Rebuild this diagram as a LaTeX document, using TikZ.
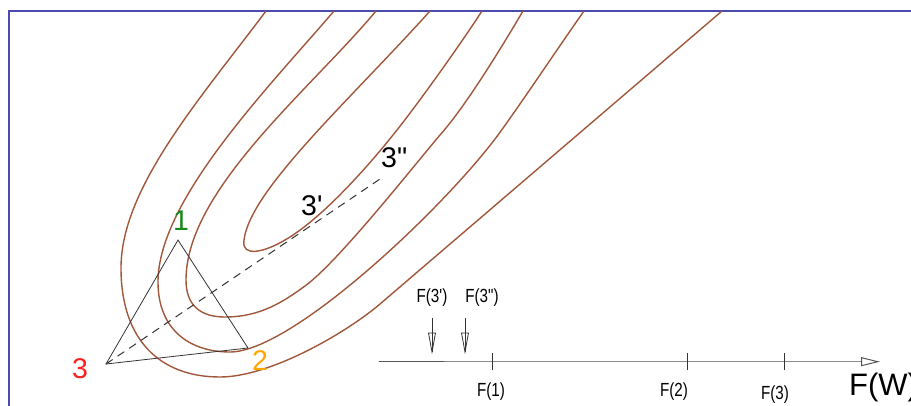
\documentclass[tikz,border=0pt]{standalone}
\usepackage{fontspec}
\usepackage{graphicx}
\newfontfamily\lab{Liberation Sans}
\usetikzlibrary{arrows.meta,calc}
\definecolor{contourc}{HTML}{A0573A}
\definecolor{framec}{HTML}{4B4BAF}
\definecolor{tric}{HTML}{333333}
\definecolor{greenc}{HTML}{17881B}
\definecolor{orangec}{HTML}{FFA500}
\definecolor{redc}{HTML}{FF2020}
\definecolor{axdark}{HTML}{555555}
\definecolor{axlight}{HTML}{8C8C8C}
\tikzset{
  contour/.style={draw=contourc, line width=1.4pt},
  frameline/.style={draw=framec, line width=1.6pt},
  tri/.style={draw=tric, line width=0.8pt},
  dashln/.style={draw=tric, line width=1pt, dash pattern=on 8pt off 6pt},
  biglab/.style={font=\lab\fontsize{28.5}{30}\selectfont, inner sep=0pt, anchor=base},
  smalllab/.style={font=\lab\fontsize{19}{20}\selectfont, inner sep=0pt, anchor=base},
  tickln/.style={draw=tric, line width=0.8pt},
  pointer/.style={draw=tric, line width=0.8pt}
}
\begin{document}
\begin{tikzpicture}[x=1pt,y=-1pt]
\useasboundingbox (0,0) rectangle (911,405);
% frame
\draw[frameline] (9,11) rectangle (916,412);
% contours (outermost to innermost)
\draw[contour] (266,11) .. controls (200,99) and (121,188) .. (121,268)
  .. controls (121,340) and (160,377) .. (220,377)
  .. controls (270,377) and (346,333) .. (380,304)
  -- (722,11);
\draw[contour] (334,11) .. controls (269,87) and (158,200) .. (158,282)
  .. controls (158,330) and (190,352) .. (230,352)
  .. controls (292,352) and (444,208) .. (498,135)
  .. controls (520,105) and (560,45) .. (584,11);
\draw[contour] (376,11) .. controls (310,90) and (186,190) .. (186,280)
  .. controls (186,305) and (200,317) .. (225,317)
  .. controls (260,317) and (283,302) .. (305,286)
  .. controls (338,262) and (412,168) .. (440,135)
  .. controls (465,107) and (500,50) .. (523,11);
\draw[contour] (430,11) .. controls (350,100) and (250,190) .. (244,240)
  .. controls (241,258) and (265,252) .. (285,240)
  .. controls (320,220) and (365,170) .. (393,135)
  .. controls (415,108) and (460,45) .. (482,11);
% triangle
\coordinate (v1) at (178,240);
\coordinate (v2) at (248,348);
\coordinate (v3) at (106,364);
\coordinate (p3pp) at (383,177);
\draw[tri] (v1) -- (v2) -- (v3) -- cycle;
\draw[dashln] (v3) -- (p3pp);
% labels
\node[biglab, text=greenc] (l1) at (181,230) {1};
\node[biglab, text=orangec] (l2) at (260,370) {2};
\node[biglab, text=redc] (l3) at (80,378) {3};
\node[biglab, anchor=base west] (l3p) at (301,215) {3'};
\node[biglab, anchor=base west] (l3pp) at (381,167) {3"};
% axis
\coordinate (axL) at (378.6,361.7);
\coordinate (axM) at (444,361.7);
\coordinate (axR) at (880,361.7);
\draw[draw=axdark, line width=1.4pt] (axL) -- (axM);
\draw[draw=axlight, line width=1.3pt, -{Triangle[open, length=19pt, width=9pt, line width=1pt, color=axdark]}] (axM) -- (axR);
\foreach \tx/\nm in {492/t1, 687/t2, 784/t3}{
  \coordinate (\nm a) at (\tx,353);
  \coordinate (\nm b) at (\tx,370);
  \draw[tickln] (\nm a) -- (\nm b);
}
\node[smalllab] (f1) at (491,396.5) {\scalebox{0.8}[1]{F(1)}};
\node[smalllab] (f2) at (674,396.5) {\scalebox{0.8}[1]{F(2)}};
\node[smalllab] (f3) at (775,399) {\scalebox{0.8}[1]{F(3)}};
\node[font=\lab\fontsize{31}{32}\selectfont, inner sep=0pt, anchor=base west] (fw) at (849,395.5) {F(W)};
% pointers
\node[smalllab] (fp) at (432,302) {\scalebox{0.8}[1]{F(3')}};
\node[smalllab] (fpp) at (482,302) {\scalebox{0.8}[1]{F(3")}};
\foreach \px/\nm in {432/a1, 465/a2}{
  \coordinate (\nm top) at (\px,318);
  \coordinate (\nm tip) at (\px,352);
  \draw[pointer] (\nm top) -- (\nm tip);
  \draw[pointer] ($(\nm tip)+(-3.5,-19)$) -- (\nm tip) -- ($(\nm tip)+(3.5,-19)$) -- cycle;
}
\end{tikzpicture}
\end{document}
